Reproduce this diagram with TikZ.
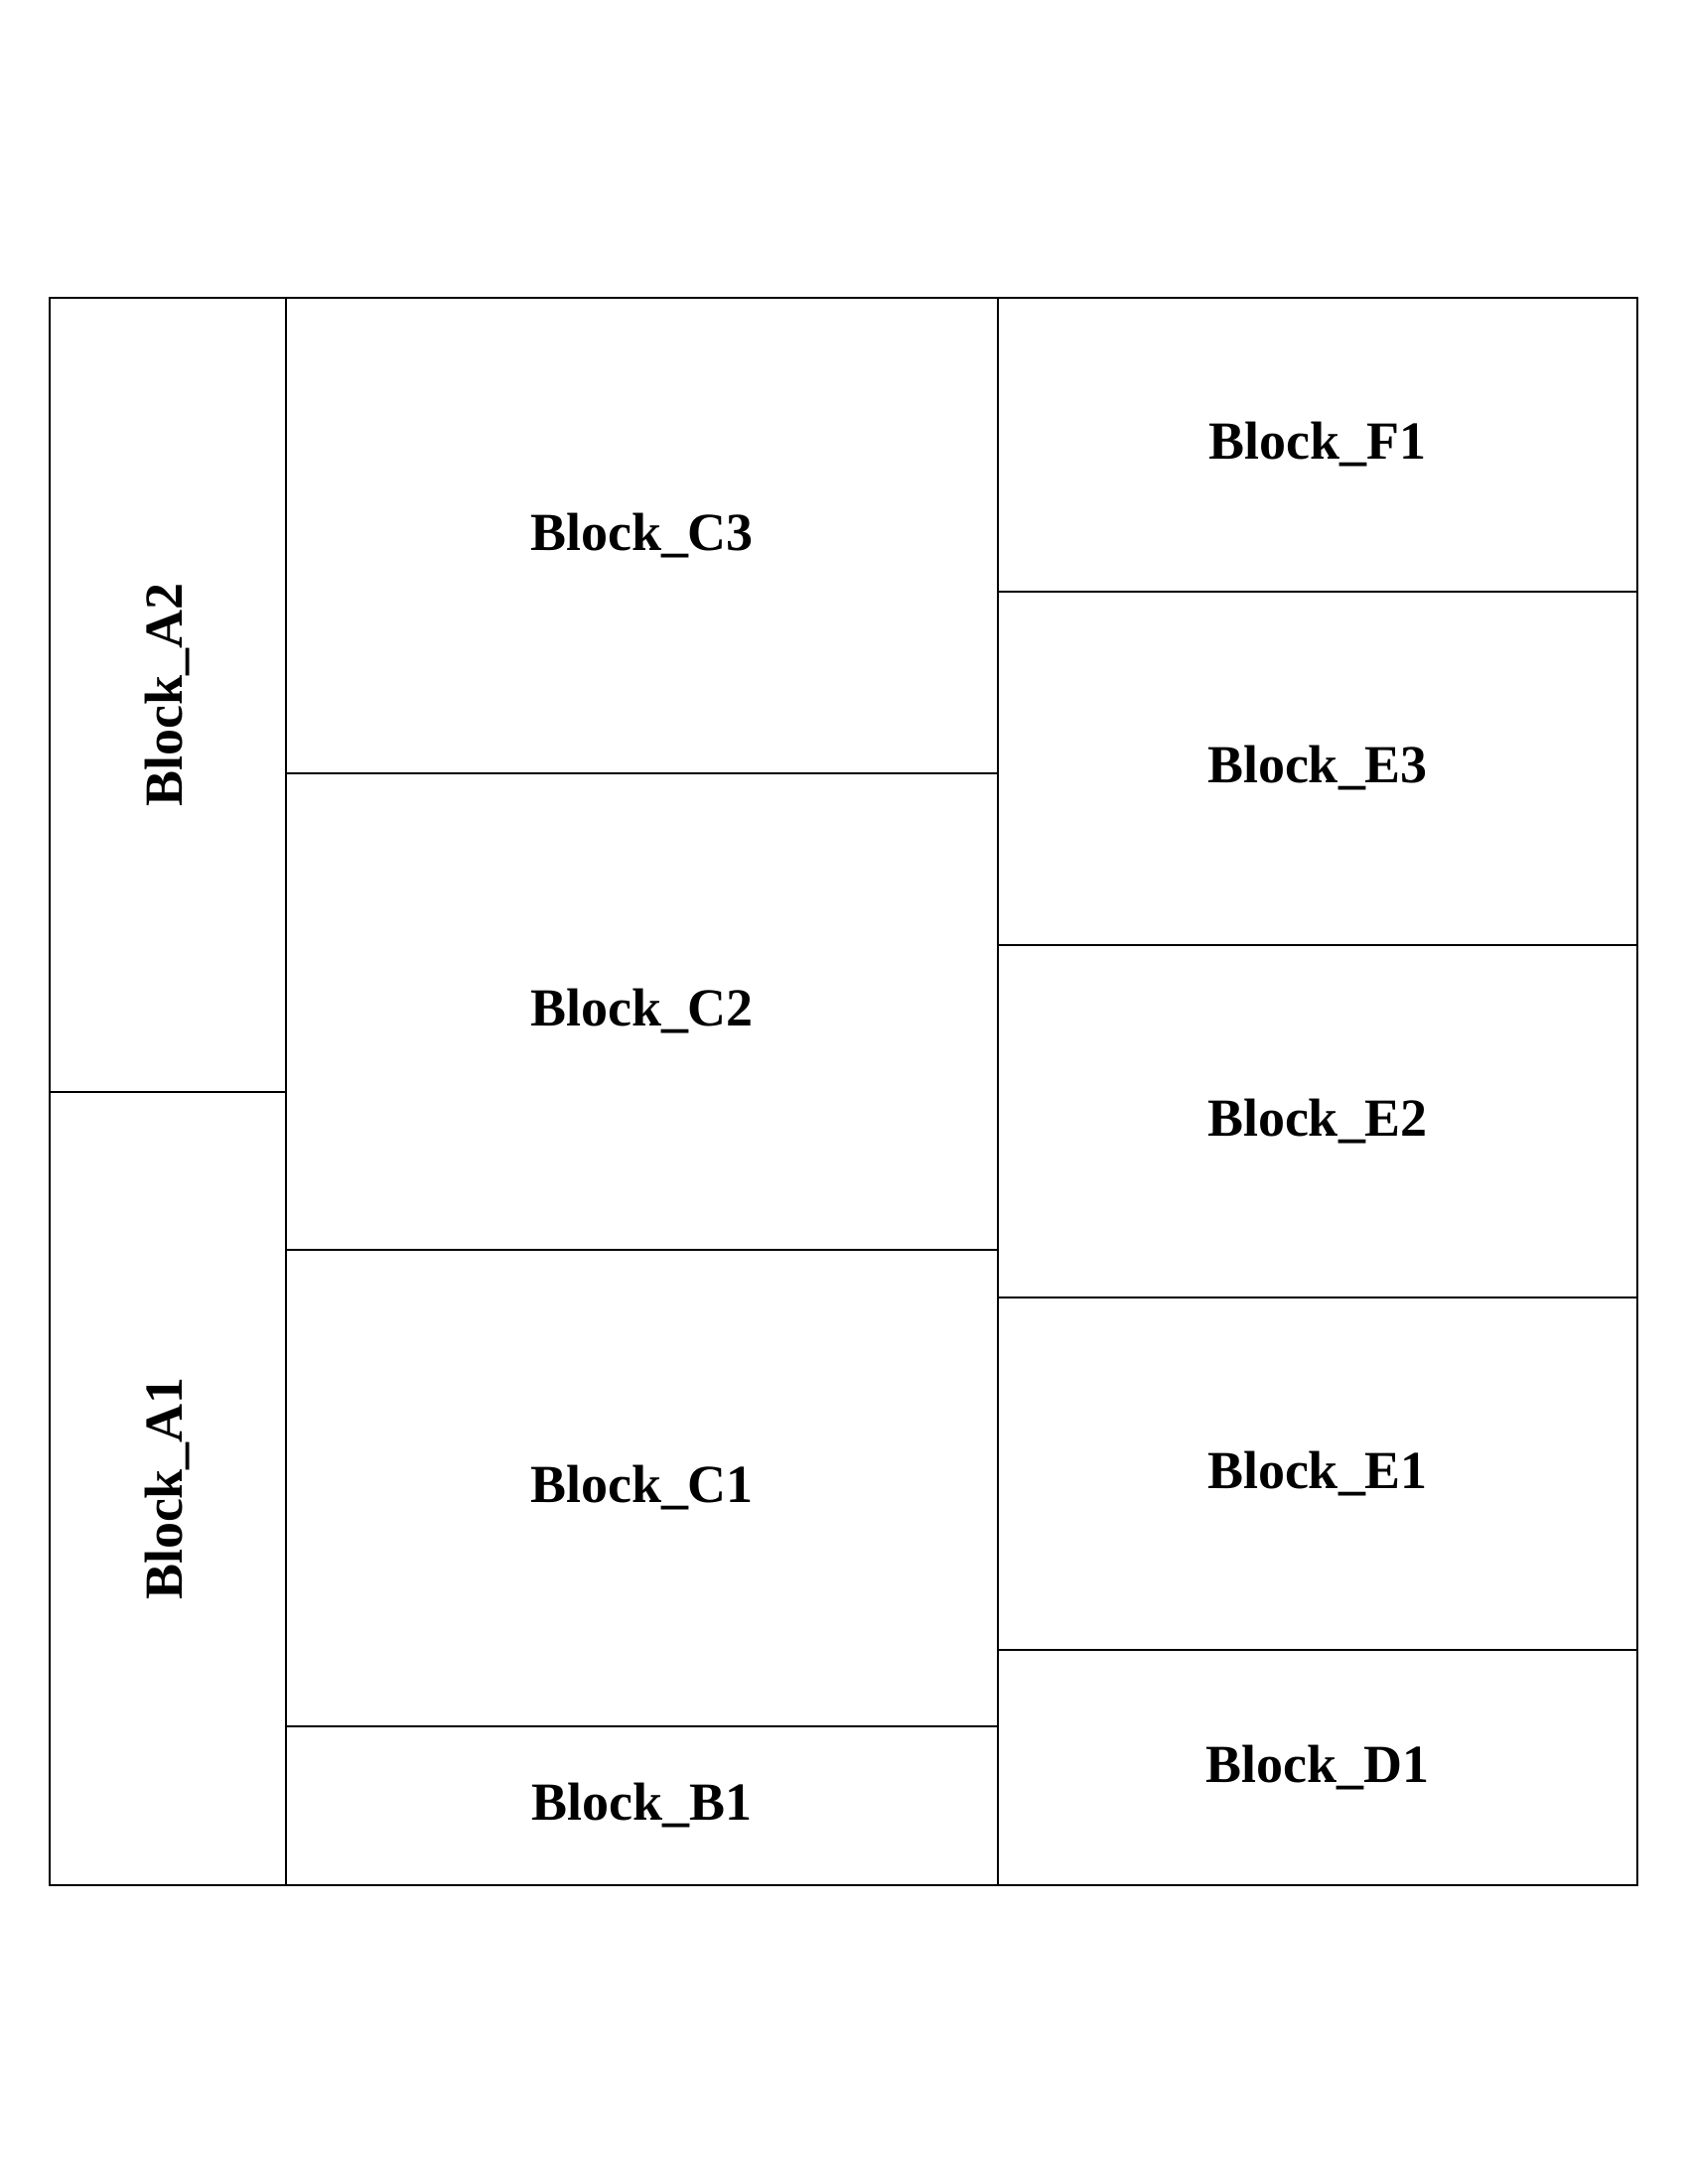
\documentclass[tikz,border=0pt]{standalone}
\usepackage{fontspec}
\setmainfont{Liberation Serif}
\def\pxu{0.36135pt}
\tikzset{
  blk/.style={draw=black, line width=0.8pt, rectangle, inner sep=0pt, outer sep=0pt,
    font=\fontsize{19.5}{23}\selectfont\bfseries, align=center},
}
\begin{document}
\begin{tikzpicture}[x=0.36135pt, y=-0.36135pt]
\useasboundingbox (0,0) rectangle (1700,2200);
\fill[white] (0,0) rectangle (1700,2200);
% column A
\node[blk, rotate=90, minimum width=800*\pxu, minimum height=238*\pxu] (A2) at (169,700) {Block\_A2};
\node[blk, rotate=90, minimum width=799*\pxu, minimum height=238*\pxu] (A1) at (169,1499.5) {Block\_A1};
% column C
\node[blk, minimum width=717*\pxu, minimum height=479*\pxu] (C3) at (646.5,539.5) {Block\_C3};
\node[blk, minimum width=717*\pxu, minimum height=480*\pxu] (C2) at (646.5,1019) {Block\_C2};
\node[blk, minimum width=717*\pxu, minimum height=480*\pxu] (C1) at (646.5,1499) {Block\_C1};
\node[blk, minimum width=717*\pxu, minimum height=160*\pxu] (B1) at (646.5,1819) {Block\_B1};
% column E
\node[blk, minimum width=644*\pxu, minimum height=296*\pxu] (F1) at (1327,448) {Block\_F1};
\node[blk, minimum width=644*\pxu, minimum height=356*\pxu] (E3) at (1327,774) {Block\_E3};
\node[blk, minimum width=644*\pxu, minimum height=355*\pxu] (E2) at (1327,1129.5) {Block\_E2};
\node[blk, minimum width=644*\pxu, minimum height=355*\pxu] (E1) at (1327,1484.5) {Block\_E1};
\node[blk, minimum width=644*\pxu, minimum height=237*\pxu] (D1) at (1327,1780.5) {Block\_D1};
% column dividers (slightly heavier)
\draw[line width=1.05pt] (C3.north west) -- (B1.south west);
\draw[line width=1.05pt] (F1.north west) -- (D1.south west);
\end{tikzpicture}
\end{document}
